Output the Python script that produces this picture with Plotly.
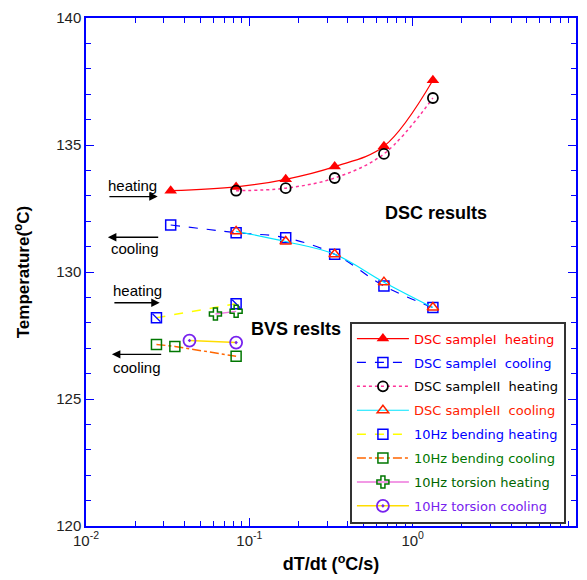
import plotly.graph_objects as go

# ---------------- data ----------------
x_dsc1_heat = [0.033, 0.083, 0.167, 0.333, 0.667, 1.33]
y_dsc1_heat = [133.2, 133.35, 133.65, 134.15, 134.95, 137.55]

x_dsc1_cool = [0.033, 0.083, 0.167, 0.333, 0.667, 1.33]
y_dsc1_cool = [131.85, 131.55, 131.35, 130.7, 129.45, 128.6]

x_dsc2_heat = [0.083, 0.167, 0.333, 0.667, 1.33]
y_dsc2_heat = [133.2, 133.3, 133.7, 134.65, 136.85]

x_dsc2_cool = [0.083, 0.167, 0.333, 0.667, 1.33]
y_dsc2_cool = [131.6, 131.2, 130.7, 129.6, 128.6]

x_bend_heat = [0.027, 0.083]
y_bend_heat = [128.2, 128.75]

x_bend_cool = [0.027, 0.035, 0.083]
y_bend_cool = [127.15, 127.07, 126.68]

x_tors_heat = [0.062, 0.083]
y_tors_heat = [128.35, 128.45]

x_tors_cool = [0.043, 0.083]
y_tors_cool = [127.3, 127.22]

xtick_vals = [0.01, 0.1, 1, 10]
xtick_text = ["10<sup>-2</sup>", "10<sup>-1</sup>", "10<sup>0</sup>", "10<sup>1</sup>"]
xminor_vals = [m * d for d in [0.01, 0.1, 1] for m in range(2, 10)]

# ---------------- figure ----------------
fig = go.Figure()

def lbl(text, color):
    return f'<span style="color:{color}">{text}</span>'

fig.add_trace(go.Scatter(
    x=x_dsc1_heat, y=y_dsc1_heat, mode="lines+markers", legendgroup="g1",
    name=lbl("DSC sampleI  heating", "#ff0000"),
    line=dict(color="#ff0000", width=1.2, shape="spline"),
    marker=dict(symbol="triangle-up", size=11, color="#ff0000")))

fig.add_trace(go.Scatter(
    x=x_dsc1_cool, y=y_dsc1_cool, mode="lines+markers", legendgroup="g2",
    name=lbl("DSC sampleI  cooling", "#0000ff"),
    line=dict(color="#0000ff", width=1.2, dash="dash", shape="spline"),
    marker=dict(symbol="square-open", size=10, color="#0000ff", line=dict(width=1.5))))

fig.add_trace(go.Scatter(
    x=x_dsc2_heat, y=y_dsc2_heat, mode="lines+markers", legendgroup="g3",
    name=lbl("DSC sampleII  heating", "#000000"),
    line=dict(color="#ff3399", width=1.5, dash="dot", shape="spline"),
    marker=dict(symbol="circle-open", size=10, color="#000000", line=dict(width=1.8))))

fig.add_trace(go.Scatter(
    x=x_dsc2_cool, y=y_dsc2_cool, mode="lines+markers", legendgroup="g4",
    name=lbl("DSC sampleII  cooling", "#ff2200"),
    line=dict(color="#00e5ff", width=1.2, shape="spline"),
    marker=dict(symbol="triangle-up-open", size=10, color="#ff2200", line=dict(width=1.5))))

fig.add_trace(go.Scatter(
    x=x_bend_heat, y=y_bend_heat, mode="lines+markers", legendgroup="g5",
    name=lbl("10Hz bending heating", "#0000ff"),
    line=dict(color="#ffff00", width=1.5, dash="dash"),
    marker=dict(symbol="square-open", size=10, color="#0000ff", line=dict(width=1.5))))
fig.add_trace(go.Scatter(
    x=x_bend_heat, y=y_bend_heat, mode="markers", showlegend=False, legendgroup="g5",
    marker=dict(symbol="line-nw", size=8, color="#0000ff", line=dict(width=1.2, color="#0000ff"))))

fig.add_trace(go.Scatter(
    x=x_bend_cool, y=y_bend_cool, mode="lines+markers", legendgroup="g6",
    name=lbl("10Hz bending cooling", "#007700"),
    line=dict(color="#ff6600", width=1.5, dash="dashdot"),
    marker=dict(symbol="square-open", size=10, color="#007700", line=dict(width=1.5))))

fig.add_trace(go.Scatter(
    x=x_tors_heat, y=y_tors_heat, mode="lines+markers", legendgroup="g7",
    name=lbl("10Hz torsion heating", "#006600"),
    line=dict(color="#ee77dd", width=1.5),
    marker=dict(symbol="cross-open", size=10, color="#007700", line=dict(width=1.5))))

fig.add_trace(go.Scatter(
    x=x_tors_cool, y=y_tors_cool, mode="lines+markers", legendgroup="g8",
    name=lbl("10Hz torsion cooling", "#7722ee"),
    line=dict(color="#ffdd00", width=1.5),
    marker=dict(symbol="circle-open-dot", size=12, color="#7722ee", line=dict(width=1.8))))

# ---------------- annotations ----------------
L, R, T, B = 86, 578, 16, 528
def px(x): return (x - L) / (R - L)
def py(y): return (B - y) / (B - T)

ann = []
def text(x, y, s, size=15, bold=False):
    ann.append(dict(x=px(x), y=py(y), xref="x domain", yref="y domain", text=(f"<b>{s}</b>" if bold else s),
                    showarrow=False, font=dict(size=size, color="#000000"), xanchor="center", yanchor="middle"))
def arrow(x0, x1, y):
    # arrow from x0 (tail) to x1 (head)
    ann.append(dict(x=px(x1), y=py(y), xref="x domain", yref="y domain", ax=px(x0), ay=py(y),
                    axref="x domain", ayref="y domain", text="", showarrow=True,
                    arrowhead=2, arrowsize=1.3, arrowwidth=1.3, arrowcolor="#000000"))

text(133, 185, "heating")
arrow(108, 158, 196)
text(135, 248, "cooling")
arrow(160, 108, 237)
text(138, 291, "heating")
arrow(113, 160, 303)
text(137, 368, "cooling")
arrow(163, 112, 355)
text(437, 213, "DSC results", size=18, bold=True)
text(297, 329, "BVS reslts", size=18, bold=True)

fig.update_layout(
    width=587, height=580,
    margin=dict(l=L, r=587 - R, t=T, b=580 - B),
    paper_bgcolor="white", plot_bgcolor="white",
    font=dict(family="Liberation Sans, Arial, sans-serif", size=15, color="#222222"),
    annotations=ann,
    legend=dict(x=px(351), y=py(322), xanchor="left", yanchor="top",
                bgcolor="white", bordercolor="#333333", borderwidth=2,
                font=dict(size=13, family="DejaVu Sans"), itemwidth=52, tracegroupgap=4,
                traceorder="grouped"),
    xaxis=dict(type="log", range=[-2, 1], tickmode="array", tickvals=xtick_vals, ticktext=xtick_text,
               showline=True, linecolor="#0000ff", linewidth=1.5, mirror="ticks",
               ticks="inside", ticklen=8, tickcolor="#0000ff", tickwidth=1,
               minor=dict(tickmode="array", tickvals=xminor_vals, ticks="inside", ticklen=5,
                          tickcolor="#0000ff", showgrid=False),
               showgrid=False, zeroline=False,
               title=dict(text="<b>dT/dt (<sup>o</sup>C/s)</b>", font=dict(size=18, color="#000000"), standoff=10)),
    yaxis=dict(range=[120, 140], tickmode="linear", tick0=120, dtick=5,
               showline=True, linecolor="#0000ff", linewidth=1.5, mirror="ticks",
               ticks="inside", ticklen=8, tickcolor="#0000ff", tickwidth=1,
               minor=dict(dtick=1, ticks="inside", ticklen=5, tickcolor="#0000ff", showgrid=False),
               showgrid=False, zeroline=False,
               title=dict(text="<b>Temperature(<sup>o</sup>C)</b>", font=dict(size=17, color="#000000"), standoff=22)),
)

fig.write_html("out.html")
